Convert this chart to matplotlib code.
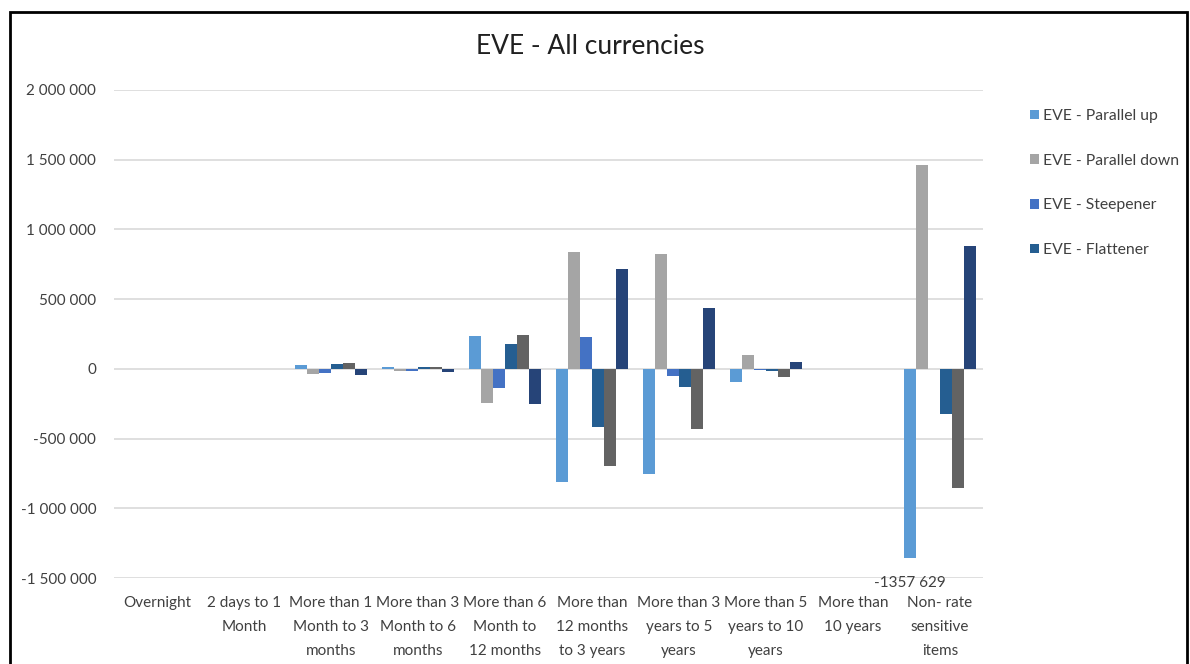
import numpy as np
import matplotlib
matplotlib.use("Agg")
import matplotlib.pyplot as plt
from matplotlib.patches import Rectangle
from matplotlib.ticker import FuncFormatter

plt.rcParams['font.family'] = ['Lato', 'DejaVu Sans']

# buckets (x axis)
categories = [
    "Overnight",
    "2 days to 1\nMonth",
    "More than 1\nMonth to 3\nmonths",
    "More than 3\nMonth to 6\nmonths",
    "More than 6\nMonth to\n12 months",
    "More than\n12 months\nto 3 years",
    "More than 3\nyears to 5\nyears",
    "More than 5\nyears to 10\nyears",
    "More than\n10 years",
    "Non- rate\nsensitive\nitems",
]

series_names = [
    "EVE - Parallel up",
    "EVE - Parallel down",
    "EVE - Steepener",
    "EVE - Flattener",
    "EVE - Short rate up",
    "EVE - Short rate down",
]

# values
parallel_up = [0, 0, 28000, 12000, 235000, -810000, -752000, -93000, 0, -1357629]
parallel_down = [0, 0, -35000, -15000, -245000, 836000, 824000, 96000, 0, 1465000]
steepener = [0, 0, -30000, -12000, -135000, 232000, -50000, -5000, 0, 0]
flattener = [0, 0, 32000, 15000, 177000, -420000, -127000, -15000, 0, -322000]
short_up = [0, 0, 42000, 15000, 241000, -700000, -430000, -55000, 0, -858000]
short_down = [0, 0, -45000, -25000, -255000, 717000, 440000, 50000, 0, 884000]

series = [parallel_up, parallel_down, steepener, flattener, short_up, short_down]
colors = ["#5B9BD5", "#A5A5A5", "#4472C4", "#255E91", "#636363", "#264478"]

fig = plt.figure(figsize=(11.9, 6.64), dpi=100)
ax = fig.add_axes([113.5 / 1190, 86 / 664, 870 / 1190, 488 / 664])

x = np.arange(len(categories))
w = 0.138
handles = []
for i, (vals, col, name) in enumerate(zip(series, colors, series_names)):
    b = ax.bar(x + (i - 2.5) * w, vals, width=w, color=col, label=name, zorder=3)
    handles.append(b)

# data label on the big non-rate-sensitive bar
ax.annotate("-1357 629", xy=(x[9] - 2.5 * w, parallel_up[9]), xytext=(0, -13),
            textcoords="offset points", ha="center", va="top", fontsize=11,
            color="#404040", zorder=4)

ax.set_xlim(-0.5, len(categories) - 0.5)
ax.set_ylim(-1500000, 2000000)
ax.set_yticks(np.arange(-1500000, 2000001, 500000))
ax.yaxis.set_major_formatter(FuncFormatter(lambda v, p: f"{int(v):,}".replace(",", " ")))
ax.set_xticks(x)
ax.set_xticklabels(categories, linespacing=1.9)
ax.tick_params(axis="x", length=0, pad=13, labelsize=11, labelcolor="#404040")
ax.tick_params(axis="y", length=0, pad=12.5, labelsize=11, labelcolor="#404040")
ax.grid(axis="y", color="#D9D9D9", linewidth=1.2, zorder=0)
ax.set_axisbelow(True)
for s in ax.spines.values():
    s.set_visible(False)

fig.text(590 / 1190, 1 - 47 / 664, "EVE - All currencies", ha="center", va="center",
         fontsize=19, color="#202020")

# legend only shows the first four entries (as in the source)
fig.legend(handles=handles[:4], labels=series_names[:4], loc="upper left",
           bbox_to_anchor=(1016 / 1190, 1 - 95 / 664), frameon=False,
           fontsize=11.3, handlelength=0.55, handleheight=0.55, handletextpad=0.3,
           labelspacing=1.95, labelcolor="#404040")

# outer chart frame
fig.patches.append(Rectangle((10 / 1190, -0.1), 1177 / 1190, 1.1 - 12 / 664,
                             transform=fig.transFigure, fill=False,
                             edgecolor="black", linewidth=2))

fig.savefig("out.png", dpi=100)
